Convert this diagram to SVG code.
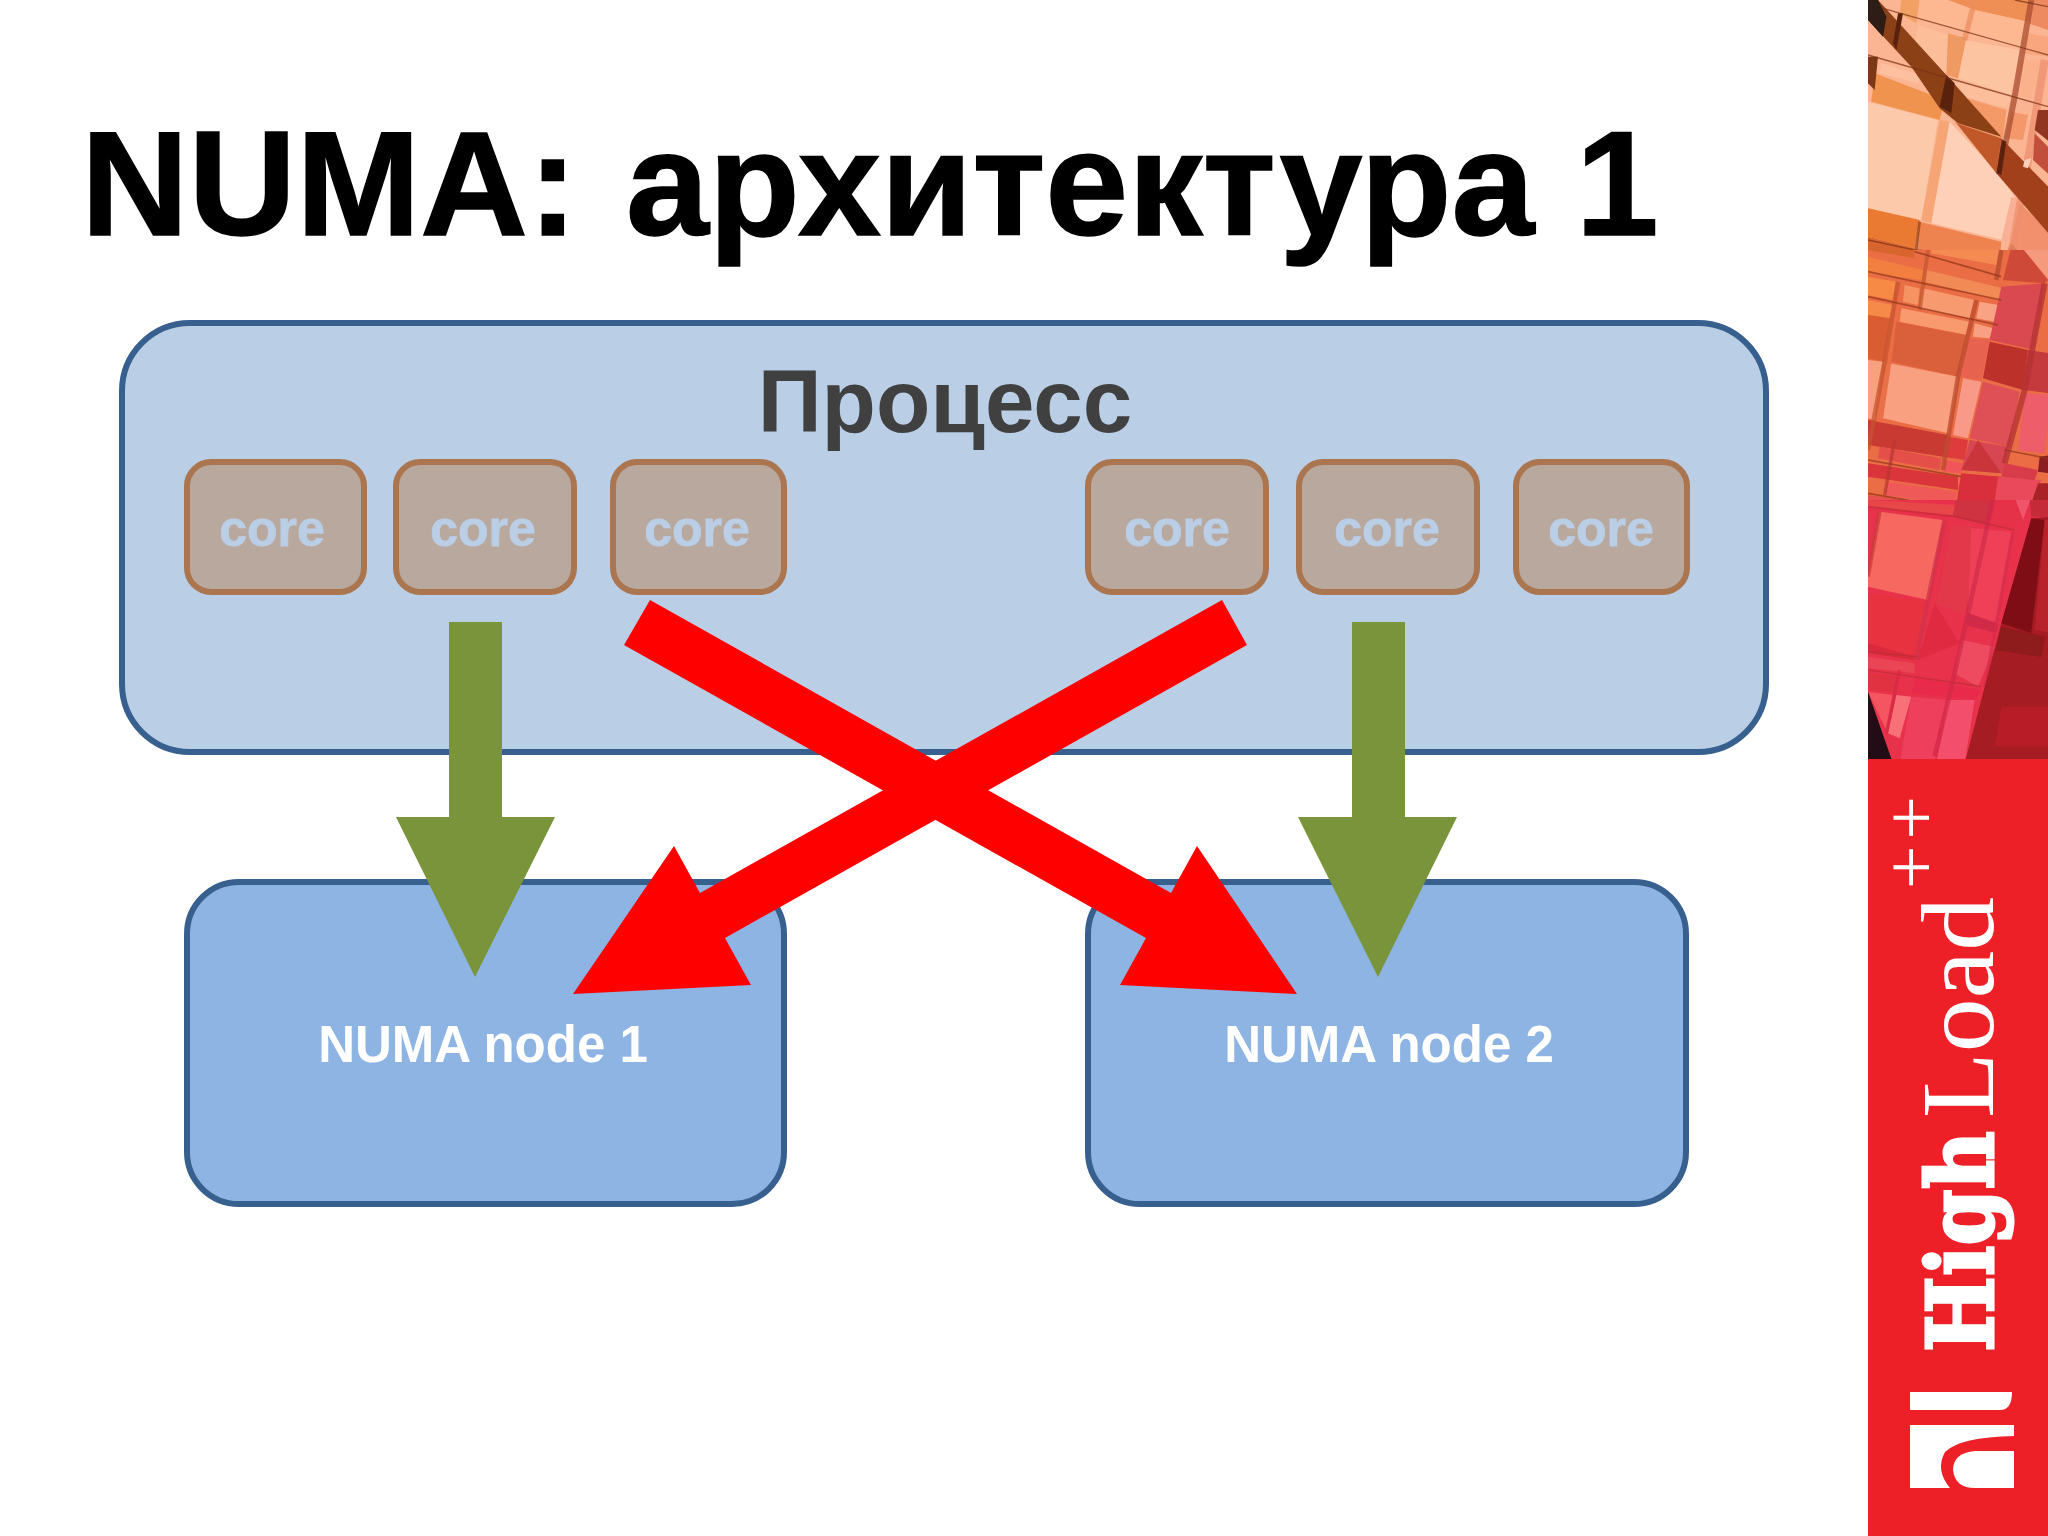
<svg xmlns="http://www.w3.org/2000/svg" width="2048" height="1536" viewBox="0 0 2048 1536">
<defs>
<style>
.t{font-family:"Liberation Sans",Arial,sans-serif;font-weight:700;text-anchor:middle}
.core rect{fill:#b9a89e;stroke:#ab764f;stroke-width:6}
.core text{font-size:50px;fill:#bacee6;stroke:#bacee6;stroke-width:.8}
.numa rect{fill:#8eb4e3;stroke:#38608f;stroke-width:6}
.numa text{font-size:51px;fill:#fff}
.green{fill:#7a943c}
.red{fill:#ff0000}
.s{fill:none;stroke-linecap:butt;stroke-opacity:.72}
</style>
<clipPath id="cp"><rect x="0" y="0" width="540" height="780"/></clipPath>
<filter id="soft" x="-5%" y="-5%" width="110%" height="110%"><feGaussianBlur stdDeviation="1.6"/></filter>
</defs>
<rect width="2048" height="1536" fill="#fff"/>
<g id="sidebar">
<g transform="translate(1868 0) scale(.33333)" clip-path="url(#cp)"><g filter="url(#soft)">
<rect x="-10" y="-10" width="560" height="800" fill="#fbb592"/>
<polygon points="240,0 490,0 480,65 320,30" fill="#ef8f55"/>
<polygon points="100,0 155,0 145,70 95,40" fill="#f2a063"/>
<polygon points="155,0 240,0 320,30 305,95 150,55" fill="#fdb892"/>
<polygon points="320,30 480,65 465,150 300,105" fill="#fdb892"/>
<polygon points="150,75 255,110 235,225 130,190" fill="#fcbd99"/>
<polygon points="290,120 455,150 430,285 270,235" fill="#fdc4a2"/>
<polygon points="480,100 540,110 540,170 470,160" fill="#f9a57d"/>
<polygon points="490,0 540,0 540,90 480,70" fill="#ee8a62"/>
<polygon points="240,100 295,115 270,235 235,225" fill="#f09a63"/>
<polygon points="460,175 515,185 490,295 435,285" fill="#fbb18b"/>
<polygon points="40,190 160,225 150,250 35,220" fill="#fcc0a0"/>
<polygon points="20,220 230,300 215,360 10,305" fill="#f0934f"/>
<polygon points="260,245 430,290 420,325 300,295" fill="#fdbe9c"/>
<polygon points="300,295 415,330 405,415 260,370" fill="#f39a68"/>
<polygon points="440,300 490,310 480,345 430,335" fill="#fbb491"/>
<polygon points="430,335 480,345 465,420 410,415" fill="#f4976a"/>
<polygon points="0,305 210,360 160,660 0,625" fill="#fdc9ab"/>
<polygon points="215,360 245,365 190,670 160,660" fill="#f6a676"/>
<polygon points="245,365 390,520 440,590 405,720 190,670" fill="#fed0b8"/>
<polygon points="0,625 155,660 140,745 0,710" fill="#ea7a32"/>
<polygon points="155,665 400,725 395,790 140,790" fill="#ef8350"/>
<polygon points="0,710 140,745 140,790 0,790" fill="#d9652f"/>
<polygon points="430,590 460,600 420,725 400,720" fill="#f9b096"/>
<polygon points="455,610 550,700 550,790 410,790 430,725" fill="#f2906e"/>
<polygon points="430,730 480,790 400,790" fill="#c9502e"/>
<path class="s" stroke="#a6492e" stroke-width="18" d="M490,0 L440,290 L395,520"/>
<path class="s" stroke="#ea8d5e" stroke-width="16" d="M320,0 L290,120"/>
<path class="s" stroke="#ec8e6e" stroke-width="24" d="M530,180 L480,480 L425,790"/>
<polygon points="30,0 235,225 400,410 270,370 215,325 130,200 0,60 0,0" fill="#8c3f18"/>
<polygon points="265,370 400,415 385,520" fill="#c0582c"/>
<polygon points="400,415 550,570 550,710 385,520" fill="#a3401f"/>
<polygon points="0,0 30,0 55,50 45,110 0,60" fill="#2f1a14"/>
<polygon points="235,225 260,250 250,340 215,320" fill="#5a2410"/>
<polygon points="402,420 415,425 400,525 385,520" fill="#5a2410"/>
<polygon points="90,40 105,40 85,150 75,130" fill="#5a2410"/>
<polygon points="0,170 30,170 20,270 0,250" fill="#7a3818"/>
<polygon points="510,330 550,330 550,430 500,390" fill="#8f3520"/>
<polygon points="500,400 550,450 550,530 495,480" fill="#c2503a"/>
<polygon points="470,480 490,475 480,505 465,500" fill="#fcd0b8"/>
<path class="s" stroke="#7c3216" stroke-width="4" d="M45,25 L540,165 M0,165 L540,320 M0,720 L140,750 M140,750 L400,770 M440,0 L540,20 M0,755 L130,775"/>
<path class="s" stroke="#8c3f18" stroke-width="8" d="M155,665 L140,780"/>
</g></g>
<g transform="translate(1868 250) scale(.33333)" clip-path="url(#cp)"><g filter="url(#soft)">
<rect x="-10" y="-10" width="560" height="800" fill="#ea6d45"/>
<polygon points="0,20 165,60 165,90 0,70" fill="#f27f41"/>
<polygon points="0,0 140,0 140,25 0,0" fill="#d9652f"/>
<polygon points="190,0 395,0 385,45 190,10" fill="#f58a53"/>
<polygon points="175,60 405,115 395,150 170,95" fill="#f28a56"/>
<polygon points="0,80 85,95 75,150 0,135" fill="#f78b45"/>
<polygon points="0,150 75,165 65,205 0,195" fill="#f58a4a"/>
<polygon points="110,105 155,115 150,165 105,155" fill="#f59362"/>
<polygon points="165,115 320,150 305,205 155,175" fill="#f79a70"/>
<polygon points="335,155 390,165 380,215 325,205" fill="#f9a384"/>
<polygon points="100,175 305,215 295,255 95,215" fill="#f8996e"/>
<polygon points="320,220 375,235 365,265 315,260" fill="#f9a083"/>
<polygon points="85,215 295,255 270,380 70,335" fill="#d9603a"/>
<polygon points="0,195 65,205 50,335 0,325" fill="#d95c32"/>
<polygon points="300,265 365,270 340,390 275,380" fill="#e8644f"/>
<polygon points="65,340 270,380 240,550 45,505" fill="#f8a080"/>
<polygon points="0,330 45,335 20,510 0,505" fill="#f8a17f"/>
<polygon points="45,335 70,340 45,505 20,505" fill="#e96f48"/>
<polygon points="285,385 340,395 300,565 255,555" fill="#f99a88"/>
<polygon points="0,510 240,555 225,620 0,585" fill="#c93a30"/>
<polygon points="35,590 220,625 215,660 30,625" fill="#e45048"/>
<polygon points="240,560 300,570 290,630 225,620" fill="#df3a3c"/>
<polygon points="230,630 285,640 280,670 225,665" fill="#f0555a"/>
<polygon points="0,640 270,680 270,720 0,680" fill="#d9343a"/>
<polygon points="60,695 265,725 262,765 50,735" fill="#ef5a58"/>
<polygon points="0,735 260,770 260,790 0,790" fill="#e8504f"/>
<polygon points="400,110 530,100 500,300 365,270" fill="#d94850"/>
<polygon points="365,275 480,300 465,420 345,385" fill="#bc322c"/>
<polygon points="345,395 455,425 425,590 305,565" fill="#de5056"/>
<polygon points="470,430 550,435 530,610 450,600" fill="#ee5d6a"/>
<polygon points="480,300 550,310 550,430 465,420" fill="#c53a3c"/>
<polygon points="430,-10 460,-10 540,90 530,100 405,90" fill="#cf4a38"/>
<polygon points="460,-10 550,-10 550,100" fill="#f69a7e"/>
<polygon points="305,570 420,590 405,670 280,660" fill="#d84552"/>
<polygon points="330,570 400,670 280,660" fill="#c9363a"/>
<polygon points="280,670 400,680 370,790 260,790" fill="#d92e3a"/>
<polygon points="390,680 520,690 480,790 375,790" fill="#ea4a5c"/>
<polygon points="410,640 510,660 500,690 400,680" fill="#d83a4a"/>
<polygon points="510,700 550,700 550,790 480,790" fill="#a82428"/>
<polygon points="515,620 550,615 550,670 510,665" fill="#8a1a20"/>
<path class="s" stroke="#c6532e" stroke-width="14" d="M90,95 L50,335 L0,600"/>
<path class="s" stroke="#c0582e" stroke-width="12" d="M180,0 L155,180"/>
<path class="s" stroke="#b8482c" stroke-width="14" d="M325,150 L270,380 L225,660"/>
<path class="s" stroke="#b04a2c" stroke-width="14" d="M400,0 L385,90"/>
<path class="s" stroke="#b23030" stroke-width="18" d="M530,100 L470,420 L410,640"/>
<path class="s" stroke="#b83630" stroke-width="10" d="M80,570 L50,735"/>
<path class="s" stroke="#92361c" stroke-width="5" d="M0,65 L400,150 M0,140 L390,225 M140,5 L400,80 M0,630 L280,680 M0,730 L260,775 M410,600 L540,625"/>
</g></g>
<g transform="translate(1868 500) scale(.33333)" clip-path="url(#cp)"><g filter="url(#soft)">
<rect x="-10" y="-10" width="560" height="800" fill="#e8324c"/>
<polygon points="0,0 260,15 255,45 0,20" fill="#e8474a"/>
<polygon points="35,35 225,60 180,300 0,260 0,230" fill="#f76860"/>
<polygon points="250,75 350,85 290,345 205,310" fill="#e2384a"/>
<polygon points="310,85 430,95 385,370 300,340" fill="#ef4058"/>
<polygon points="265,-10 380,-10 360,75 255,50" fill="#cf3040"/>
<polygon points="380,-10 440,-10 465,60 435,90 370,70" fill="#e53048"/>
<polygon points="440,-10 490,-10 465,60" fill="#f0556a"/>
<polygon points="0,280 175,305 145,470 0,430" fill="#e8333f"/>
<polygon points="200,310 275,430 150,480" fill="#df2a42"/>
<polygon points="0,430 140,470 135,480 0,460" fill="#d92c3a"/>
<polygon points="0,470 140,490 140,520 0,505" fill="#e94454"/>
<polygon points="0,520 90,530 80,575 0,570" fill="#e03040"/>
<polygon points="280,420 380,440 330,560 260,520" fill="#ee4c60"/>
<polygon points="140,530 340,570 320,600 130,580" fill="#e92c4c"/>
<polygon points="0,575 75,585 55,690 40,660" fill="#f45460"/>
<polygon points="85,585 130,590 95,715 60,700" fill="#f87078"/>
<polygon points="130,590 240,600 200,790 95,790" fill="#ee3f5c"/>
<polygon points="240,600 320,600 290,790 205,790" fill="#f34f6c"/>
<polygon points="300,340 390,370 385,400 295,375" fill="#d02a48"/>
<path class="s" stroke="#d0304a" stroke-width="14" d="M230,60 L180,300 L145,480"/>
<path class="s" stroke="#d02a4a" stroke-width="14" d="M375,0 L300,340 L260,520 L200,770"/>
<path class="s" stroke="#d62c4c" stroke-width="10" d="M435,95 L385,370 L350,560"/>
<path class="s" stroke="#c83a3a" stroke-width="12" d="M35,35 L0,230"/>
<path class="s" stroke="#d52a44" stroke-width="10" d="M95,510 L55,700"/>
<path class="s" stroke="#c02c38" stroke-width="5" d="M0,20 L260,50 L440,90 M0,455 L145,470 M0,510 L340,560"/>
<polygon points="490,55 550,50 550,790 290,790 400,370" fill="#a51a22"/>
<polygon points="490,55 530,60 490,400 400,370" fill="#7f1018"/>
<polygon points="400,380 530,410 520,470 385,450" fill="#8e1a1e"/>
<polygon points="530,60 550,60 550,400 500,390" fill="#b8202a"/>
<polygon points="400,620 550,620 550,740 380,740" fill="#b81e26"/>
<polygon points="485,-10 550,-10 550,50 490,50" fill="#c52a38"/>
<polygon points="0,575 75,790 0,790" fill="#231012"/>
</g></g>
<rect x="1868" y="759" width="180" height="777" fill="#ee2027"/>
<g id="logo" fill="#fff">
<text transform="translate(1993 1352) rotate(-90)" font-family="'DejaVu Serif',serif" font-weight="700" font-size="92" textLength="221" lengthAdjust="spacingAndGlyphs" stroke="#fff" stroke-width="3">High</text>
<text transform="translate(1993 1118) rotate(-90)" font-family="'Liberation Serif',serif" font-size="103" textLength="221" lengthAdjust="spacingAndGlyphs">Load</text>
<text transform="translate(1936 889) rotate(-90)" font-family="'Liberation Serif',serif" font-size="77" letter-spacing="6">++</text>
<path d="M1910,1392H2012Q2012,1410 2000,1410H1910Z"/>
<path d="M1910,1425H2014V1436Q1960,1437 1945,1452Q1935,1470 1950,1488H1910Z"/>
<path d="M2014,1451H1975Q1953,1453 1953,1470Q1955,1488 1975,1488H2014Z"/>
</g>
</g>
<text id="title" class="t" style="text-anchor:start" y="235" font-size="149" fill="#000" stroke="#000" stroke-width="1.5"><tspan x="81">NUMA:</tspan><tspan x="626">архитектура 1</tspan></text>
<g id="process">
<rect x="122" y="323" width="1644" height="429" rx="68" ry="68" fill="#bacee6" stroke="#38608f" stroke-width="6"/>
<text class="t" x="945" y="432" font-size="89" fill="#404040">Процесс</text>
</g>
<g id="core1" class="core"><rect x="187" y="462" width="177" height="130" rx="24"/><text class="t" x="272" y="546">core</text></g>
<g id="core2" class="core"><rect x="396" y="462" width="178" height="130" rx="24"/><text class="t" x="483" y="546">core</text></g>
<g id="core3" class="core"><rect x="613" y="462" width="171" height="130" rx="24"/><text class="t" x="697" y="546">core</text></g>
<g id="core4" class="core"><rect x="1088" y="462" width="178" height="130" rx="24"/><text class="t" x="1177" y="546">core</text></g>
<g id="core5" class="core"><rect x="1299" y="462" width="178" height="130" rx="24"/><text class="t" x="1387" y="546">core</text></g>
<g id="core6" class="core"><rect x="1516" y="462" width="171" height="130" rx="24"/><text class="t" x="1601" y="546">core</text></g>
<g id="numa1" class="numa"><rect x="187" y="882" width="597" height="322" rx="52"/><text class="t" x="483" y="1062">NUMA node 1</text></g>
<g id="numa2" class="numa"><rect x="1088" y="882" width="598" height="322" rx="52"/><text class="t" x="1389" y="1062">NUMA node 2</text></g>
<g id="connectors">
<polygon class="green" points="449,622 502,622 502,817 555,817 475,977 396,817 449,817"/>
<polygon class="green" points="1352,622 1405,622 1405,817 1457,817 1378,977 1298,817 1352,817"/>
<polygon class="red" points="650,600 1171,893 1197,846 1297,994 1120,985 1146,938 624,645"/>
<polygon class="red" points="1222,600 700,893 674,846 573,994 751,985 725,938 1247,645"/>
</g>
</svg>
